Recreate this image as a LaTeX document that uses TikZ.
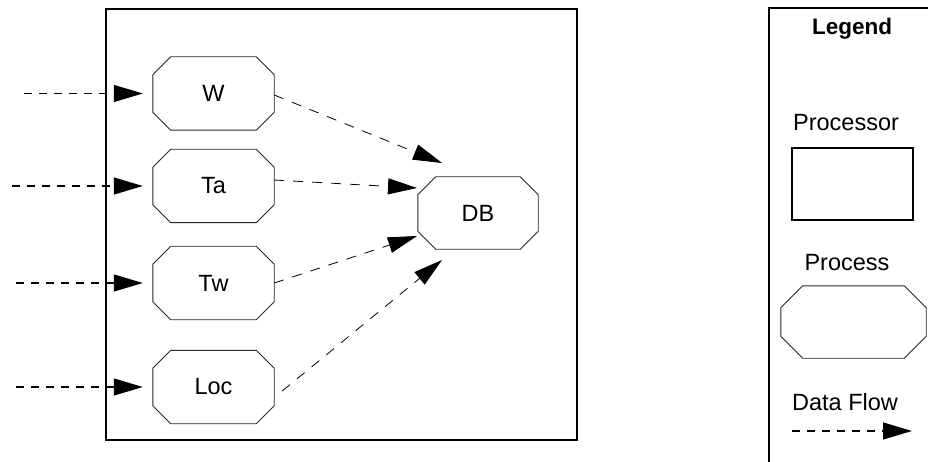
\documentclass[tikz,border=0pt]{standalone}
\usepackage{fontspec}
\setmainfont{Liberation Sans}
\usetikzlibrary{arrows.meta,calc}
\begin{document}
\begin{tikzpicture}[x=1pt,y=-1pt,
  txt/.style={font=\fontsize{23.5}{28}\selectfont, inner sep=0pt},
  procnode/.style={txt, minimum width=121pt, minimum height=73pt},
  octo/.style={draw=black!85, line width=0.9pt},
  flowin/.style={line width=1.3pt, dash pattern=on 8pt off 7pt, -{Triangle[length=29pt,width=17pt]}},
  flowout/.style={line width=0.8pt, dash pattern=on 10pt off 9pt, -{Triangle[length=29pt,width=16pt]}},
  frame/.style={draw, line width=1.6pt}]
\useasboundingbox (0,0) rectangle (928,462);

% processor frame
\draw[frame] (106,9) rectangle (577,440);

% process nodes
\node[procnode] (W)   at (213.5,93.5) {W};
\node[procnode] (Ta)  at (213.5,186)  {Ta};
\node[procnode] (Tw)  at (213.5,283)  {Tw};
\node[procnode] (Loc) at (213.5,387)  {Loc};
\node[procnode, minimum width=120pt, minimum height=72pt] (DB) at (478,213) {DB};

% legend
\draw[frame] (935,8) -- (769,8) -- (769,470);
\node[txt, font=\fontsize{22.5}{27}\selectfont\bfseries, anchor=base] (lgtitle) at (852,35) {Legend};
\node[txt, anchor=base] (lgprocessor) at (846,130.5) {Processor};
\node[draw, line width=1.3pt, minimum width=121pt, minimum height=72pt, inner sep=0pt] (legproc) at (852.5,184) {};
\node[txt, anchor=base] (lgprocess) at (847,270) {Process};
\node[minimum width=145pt, minimum height=72pt, inner sep=0pt] (legprocess) at (853.5,322) {};
\node[txt, anchor=base] (lgflow) at (845,410) {Data Flow};

% octagon outlines
\foreach \n/\c in {W/18,Ta/18,Tw/18,Loc/18,DB/18,legprocess/22}
  \draw[octo] ($(\n.north west)+(\c,0)$) -- ($(\n.north east)+(-\c,0)$)
    -- ($(\n.north east)+(0,\c)$) -- ($(\n.south east)+(0,-\c)$)
    -- ($(\n.south east)+(-\c,0)$) -- ($(\n.south west)+(\c,0)$)
    -- ($(\n.south west)+(0,-\c)$) -- ($(\n.north west)+(0,\c)$) -- cycle;

% incoming flows
\coordinate (wIn)   at (24,93.5);
\coordinate (taIn)  at (12,186);
\coordinate (twIn)  at (16,283);
\coordinate (locIn) at (16,387);
\draw[flowin, shorten >=10pt] (wIn) -- (W.west);
\draw[flowin, shorten >=10pt] (taIn) -- (Ta.west);
\draw[flowin, shorten >=10pt] (twIn) -- (Tw.west);
\draw[flowin, shorten >=10pt] (locIn) -- (Loc.west);

% flows to DB
\draw[flowout] ($(W.east)+(0,1.5)$) -- ($(DB.center)+(-36,-50)$);
\draw[flowout] ($(Ta.east)+(0,-6)$) -- ($(DB.center)+(-61,-25)$);
\draw[flowout] (Tw.east) -- ($(DB.center)+(-61,23)$);
\draw[flowout] ($(Loc.east)+(8,4)$) -- ($(DB.center)+(-36,47)$);

% legend data flow
\coordinate (dfA) at (792,431);
\coordinate (dfB) at (912,431);
\draw[flowin] (dfA) -- (dfB);
\end{tikzpicture}
\end{document}
